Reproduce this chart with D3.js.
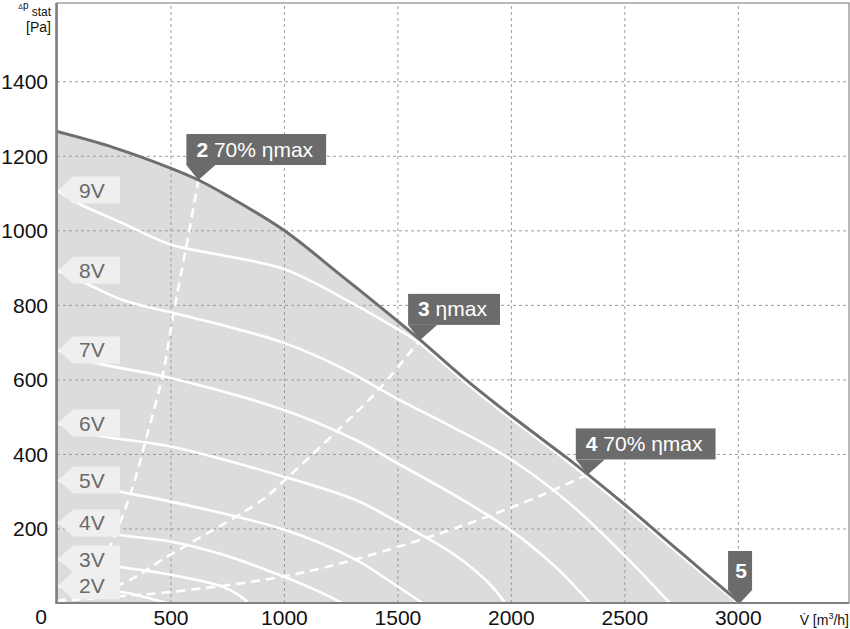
<!DOCTYPE html>
<html><head><meta charset="utf-8">
<script src="https://cdn.jsdelivr.net/npm/d3@7/dist/d3.min.js"></script>
<style>
html,body{margin:0;padding:0;background:#fff;}
svg{display:block;font-family:"Liberation Sans",Arial,sans-serif;}
</style></head>
<body>
<svg id="chart" width="850" height="629"></svg>
<script>
// ---- data ----
const xTicks = [500, 1000, 1500, 2000, 2500, 3000];
const yTicks = [200, 400, 600, 800, 1000, 1200, 1400];

// max curve (10V) : [V m3/h, p Pa]
const curveMax = [[0,1265],[250,1222],[500,1167],[623,1135],[750,1093],[1000,1000],[1250,880],[1500,757],[1600,706],[1800,600],[2000,503],[2250,388],[2339,345],[2500,265],[2750,135],[3010,0]];

const curve9V = [[0,1108],[82,1076],[289,1019],[500,962],[729,933],[1000,896],[1314,800],[1500,735],[1600,696],[1800,592],[2000,495],[2250,380],[2500,257],[2750,127],[3000,0]];
const curve8V = [[0,893],[126,858],[289,813],[500,780],[750,742],[1000,698],[1248,633],[1500,548],[1750,470],[2000,385],[2250,272],[2500,128],[2700,0]];
const curve7V = [[0,679],[170,645],[500,604],[1000,518],[1314,438],[1500,375],[1750,290],[2000,195],[2200,95],[2349,0]];
const curve6V = [[0,483],[170,451],[500,420],[1000,339],[1314,277],[1500,218],[1750,130],[1900,55],[1975,0]];
const curve5V = [[0,330],[272,299],[500,272],[1000,197],[1314,117],[1450,65],[1609,0]];
const curve4V = [[0,215],[272,183],[500,165],[729,130],[997,71],[1150,32],[1257,0]];
const curve3V = [[0,118],[272,97],[500,76],[729,44],[800,22],[844,0]];
const curve2V = [[0,46],[272,31],[400,14],[478,0]];

const voltageNames = ["9V","8V","7V","6V","5V","4V","3V","2V"];
const voltageCurves = [curve9V, curve8V, curve7V, curve6V, curve5V, curve4V, curve3V, curve2V];

// system (efficiency) curves, dashed
const system2 = [[0,0],[150,60],[250,175],[333,310],[390,435],[465,610],[513,775],[580,990],[623,1135]];
const system3 = [[0,5],[280,50],[500,130],[905,277],[997,326],[1248,470],[1424,577],[1600,706]];
const system4 = [[0,5],[267,18],[478,28],[997,71],[1314,117],[1762,202],[2142,291],[2339,345]];
const systemCurves = [system2, system3, system4];

// operating point markers
const markerIds   = ["2", "3", "4", "5"];
const markerTexts = [" 70% ηmax", " ηmax", " 70% ηmax", ""];
const markerV     = [623, 1600, 2339, 3010];
const markerP     = [1135, 706, 345, 0];

// ---- drawing ----
const svg = d3.select("#chart");
const x = d3.scaleLinear().domain([0, 3490]).range([57, 849]);
const y = d3.scaleLinear().domain([0, 1610]).range([603, 3]);

svg.append("clipPath").attr("id","plotclip").append("rect")
  .attr("x", x(0)).attr("y", y(1610)).attr("width", x(3490)-x(0)).attr("height", y(0)-y(1610));

const plot = svg.append("g").attr("clip-path","url(#plotclip)");
const smooth = d3.curveCatmullRom.alpha(0.5);

// fill under max curve
plot.append("path")
  .datum(curveMax)
  .attr("fill","#dcdcdc")
  .attr("d", d3.area().x(d=>x(d[0])).y0(y(0)).y1(d=>y(d[1])).curve(smooth));

// grid
const gx = plot.append("g").attr("transform",`translate(0,${y(0)})`)
  .call(d3.axisBottom(x).tickValues(xTicks).tickSize(-(y(0)-y(1610))).tickFormat(""));
gx.select(".domain").remove();
gx.selectAll("line").attr("stroke","#9c9c9c").attr("stroke-dasharray","3,3").attr("stroke-width",1);
const gy = plot.append("g").attr("transform",`translate(${x(0)},0)`)
  .call(d3.axisLeft(y).tickValues(yTicks).tickSize(-(x(3490)-x(0))).tickFormat(""));
gy.select(".domain").remove();
gy.selectAll("line").attr("stroke","#9c9c9c").attr("stroke-dasharray","3,3").attr("stroke-width",1);

const line = d3.line().x(d=>x(d[0])).y(d=>y(d[1])).curve(smooth);

// voltage curves
plot.selectAll("path.vc").data(voltageCurves).enter().append("path")
  .attr("class","vc").attr("fill","none").attr("stroke","#fff").attr("stroke-width",2.6)
  .attr("d", line);

// system curves
plot.selectAll("path.sc").data(systemCurves).enter().append("path")
  .attr("class","sc").attr("fill","none").attr("stroke","#fff").attr("stroke-width",2.6)
  .attr("stroke-dasharray","9,6")
  .attr("d", line);

// max curve line
plot.append("path").datum(curveMax).attr("fill","none").attr("stroke","#6e6e6e")
  .attr("stroke-width",3).attr("d", line);

// voltage tags
const tagH = 27, tagW = 62, tagTip = 15;
voltageNames.forEach((name, i) => {
  const yc = y(voltageCurves[i][0][1]);
  const x0 = x(0) + 1;
  const g = svg.append("g");
  g.append("polygon")
    .attr("points", [[x0,yc],[x0+tagTip,yc-tagH/2],[x0+tagW,yc-tagH/2],[x0+tagW,yc+tagH/2],[x0+tagTip,yc+tagH/2]].map(p=>p.join(",")).join(" "))
    .attr("fill","#efefef");
  g.append("text").attr("x", x0+21).attr("y", yc+7.5)
    .attr("font-size",21).attr("fill","#6a6a6a").text(name);
});

// markers
markerIds.forEach((id, i) => {
  const tx = x(markerV[i]), ty = y(markerP[i]);
  const g = svg.append("g");
  if (markerTexts[i] !== "") {
    const bh = 31, bottom = ty - 15, left = tx - 12;
    const t = g.append("text").attr("x", left+10).attr("y", bottom - 8.5)
      .attr("font-size",21).attr("fill","#fff");
    t.append("tspan").attr("font-weight","bold").text(id);
    t.append("tspan").text(markerTexts[i]);
    const w = t.node().getComputedTextLength();
    g.insert("rect","text").attr("x", left).attr("y", bottom-bh).attr("width", w+23).attr("height", bh).attr("fill","#6b6b6b");
    g.insert("polygon","text").attr("points", [[left,bottom],[left+29,bottom],[tx,ty]].map(p=>p.join(",")).join(" ")).attr("fill","#6b6b6b");
  } else {
    const bw = 24, left = tx - bw/2, bottom = ty - 13, top = ty - 52;
    g.append("rect").attr("x", left).attr("y", top).attr("width", bw).attr("height", bottom-top).attr("fill","#6b6b6b");
    g.append("polygon").attr("points", [[left,bottom],[left+bw,bottom],[tx,ty]].map(p=>p.join(",")).join(" ")).attr("fill","#6b6b6b");
    g.append("text").attr("x", tx+1).attr("y", top+27).attr("text-anchor","middle")
      .attr("font-size",21).attr("font-weight","bold").attr("fill","#fff").text(id);
  }
});

// frame
svg.append("rect").attr("x", x(0)).attr("y", y(1610)).attr("width", x(3490)-x(0)).attr("height", y(0)-y(1610))
  .attr("fill","none").attr("stroke","#8a8a8a").attr("stroke-width",1.2);
svg.append("line").attr("x1", x(0)-0.5).attr("x2", x(0)-0.5).attr("y1", y(1610)).attr("y2", y(0)+1)
  .attr("stroke","#808080").attr("stroke-width",2.6);
svg.append("line").attr("x1", x(0)).attr("x2", x(3490)).attr("y1", y(0)).attr("y2", y(0))
  .attr("stroke","#808080").attr("stroke-width",2.2);

// axes labels
const fmt = d3.format("d");
const ax = svg.append("g").attr("transform",`translate(0,${y(0)})`)
  .call(d3.axisBottom(x).tickValues(xTicks).tickFormat(fmt).tickSize(0).tickPadding(7));
ax.select(".domain").remove();
ax.selectAll("text").attr("font-size",21).attr("fill","#111").attr("font-family","Liberation Sans, Arial, sans-serif");
const ay = svg.append("g").attr("transform",`translate(${x(0)},0)`)
  .call(d3.axisLeft(y).tickValues(yTicks).tickFormat(fmt).tickSize(0).tickPadding(9));
ay.select(".domain").remove();
ay.selectAll("text").attr("font-size",21).attr("fill","#111").attr("font-family","Liberation Sans, Arial, sans-serif").attr("dy","0.35em");

svg.append("text").attr("x", 47).attr("y", 624).attr("text-anchor","end")
  .attr("font-size",21).attr("fill","#111").text("0");

// axis titles
const yt = svg.append("g").attr("fill","#111");
yt.append("text").attr("x", 23).attr("y", 9).attr("text-anchor","end").attr("font-size",7).text("Δ");
yt.append("text").attr("x", 23).attr("y", 9).attr("font-size",10).text("p");
yt.append("text").attr("x", 51).attr("y", 15.5).attr("text-anchor","end").attr("font-size",12).text("stat");
yt.append("text").attr("x", 51).attr("y", 32).attr("text-anchor","end").attr("font-size",14).text("[Pa]");

const xt = svg.append("text").attr("x", 849).attr("y", 625).attr("text-anchor","end").attr("font-size",14).attr("fill","#111");
xt.append("tspan").text("V\u0307 [m");
xt.append("tspan").attr("font-size",9).attr("dy",-6).text("3");
xt.append("tspan").attr("dy",6).text("/h]");
</script>
</body></html>
